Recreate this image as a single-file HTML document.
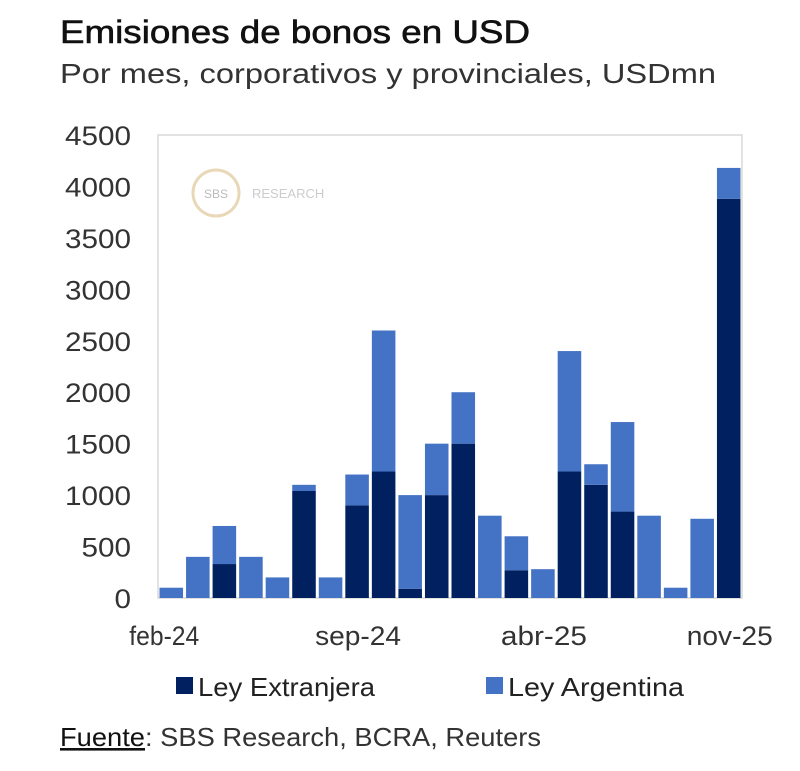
<!DOCTYPE html>
<html><head><meta charset="utf-8"><style>
body{margin:0;width:800px;height:766px;background:#fff;font-family:"Liberation Sans",sans-serif;overflow:hidden}
</style></head><body>
<svg width="800" height="766">
<text x="60" y="43" font-size="32" fill="#111" stroke="#111" stroke-width="0.6" textLength="470" lengthAdjust="spacingAndGlyphs">Emisiones de bonos en USD</text>
<text x="60" y="83" font-size="28" fill="#333" textLength="656" lengthAdjust="spacingAndGlyphs">Por mes, corporativos y provinciales, USDmn</text>
<rect x="158" y="135" width="584" height="463" fill="none" stroke="#d9d9d9" stroke-width="1.5"/>
<g>
<circle cx="216" cy="193" r="23" fill="none" stroke="#e8d8b8" stroke-width="3"/>
<text x="216" y="198" font-size="12" fill="#bbb" text-anchor="middle">SBS</text>
<text x="252" y="198" font-size="13" fill="#ccc">RESEARCH</text>
</g>
<g id="yaxis"></g><g id="bars"></g><g id="xaxis"></g>
<g>
<rect x="176" y="677" width="17" height="17" fill="#002060"/>
<text x="198" y="696" font-size="26" fill="#222" textLength="177" lengthAdjust="spacingAndGlyphs">Ley Extranjera</text>
<rect x="486" y="677" width="17" height="17" fill="#4472c4"/>
<text x="508" y="696" font-size="26" fill="#222" textLength="176" lengthAdjust="spacingAndGlyphs">Ley Argentina</text>
</g>
<text x="60" y="746" font-size="26" fill="#333" textLength="481" lengthAdjust="spacingAndGlyphs"><tspan text-decoration="underline" fill="#111">Fuente</tspan>: SBS Research, BCRA, Reuters</text>
</svg>
<script>
const months=["feb-24","mar-24","abr-24","may-24","jun-24","jul-24","ago-24","sep-24","oct-24","nov-24","dic-24","ene-25","feb-25","mar-25","abr-25","may-25","jun-25","jul-25","ago-25","sep-25","oct-25","nov-25"];
const leyExtranjera=[0,0,330,0,0,1040,0,900,1230,90,1000,1500,0,270,0,1230,1100,840,0,0,0,3880];
const leyArgentina=[100,400,370,400,200,60,200,300,1370,910,500,500,800,330,280,1170,200,870,800,100,770,300];
const yTicks=[0,500,1000,1500,2000,2500,3000,3500,4000,4500];
const xLabels=["feb-24","sep-24","abr-25","nov-25"];
const NS="http://www.w3.org/2000/svg";
const x0=158,x1=742,y0=598,y1=135,yMax=4500;
const bw=(x1-x0)/months.length;
const yS=v=>y0-(v/yMax)*(y0-y1);
const xS=i=>x0+i*bw;
function mk(t,a,p){const e=document.createElementNS(NS,t);for(const k in a)e.setAttribute(k,a[k]);p.appendChild(e);return e;}
const ya=document.getElementById('yaxis');
yTicks.forEach(v=>{const s=String(v);const t=mk('text',{x:131,y:yS(v)+10,'font-size':27,fill:'#333','text-anchor':'end',textLength:s.length*16.5,lengthAdjust:'spacingAndGlyphs'},ya);t.textContent=s;

});
const bg=document.getElementById('bars');
months.forEach((m,i)=>{
 const e=leyExtranjera[i],a=leyArgentina[i];
 const r1=mk('rect',{x:xS(i)+1.5,y:yS(e),width:bw-3,height:y0-yS(e),fill:'#002060'},bg);
 
 
 const r2=mk('rect',{x:xS(i)+1.5,y:yS(e+a),width:bw-3,height:yS(e)-yS(e+a),fill:'#4472c4'},bg);
 
 
});
const xa=document.getElementById('xaxis');
xLabels.forEach((l,k)=>{const i=months.indexOf(l);const t=mk('text',{x:xS(i)+bw/2+(k===0?-7:1),y:645,'font-size':27,fill:'#333','text-anchor':'middle',textLength:k===0?70:86,lengthAdjust:'spacingAndGlyphs'},xa);t.textContent=l;

});
</script>
</body></html>
